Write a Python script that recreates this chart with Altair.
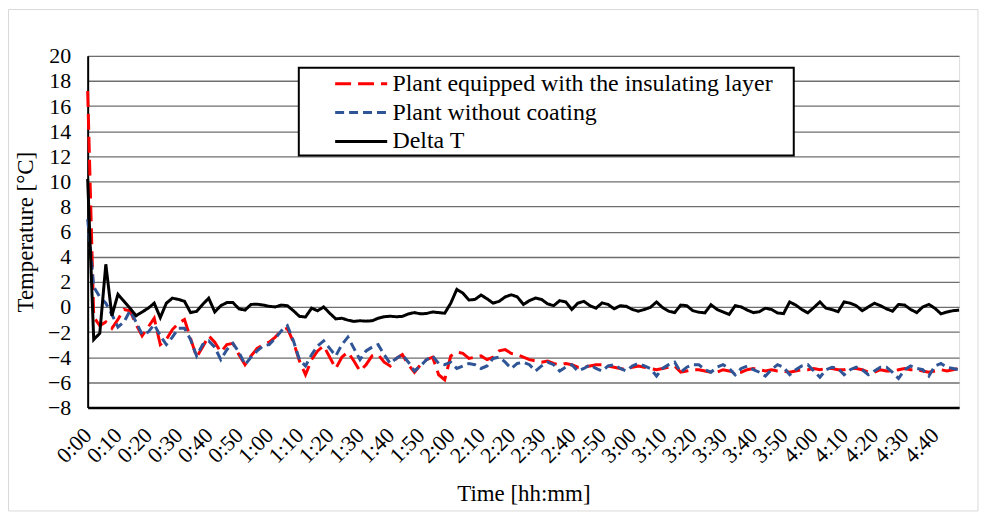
import altair as alt
import pandas as pd

minutes = list(range(0, 289, 2))

insulated = [
    17.2, -0.8, -1.5, -1.2, -1.7, -1.0, -0.2, -0.3, -1.4, -2.3,
    -1.6, -0.9, -3.0, -2.6, -1.8, -1.3, -1.0, -2.5, -4.0, -3.2,
    -2.3, -2.8, -3.6, -3.0, -2.9, -3.8, -4.6, -3.9, -3.3, -3.0,
    -2.8, -2.4, -1.9, -1.7, -2.8, -4.3, -5.4, -4.2, -3.5, -3.1,
    -4.0, -4.9, -4.0, -3.6, -4.3, -5.1, -4.6, -3.9, -3.8, -4.4,
    -4.7, -4.1, -3.8, -4.6, -5.2, -4.6, -4.2, -4.0, -5.4, -5.8,
    -3.9, -3.6, -3.7, -4.1, -4.0, -3.9, -4.2, -4.0, -3.5, -3.4,
    -3.7, -3.8, -4.0, -4.2, -4.3, -4.4, -4.3, -4.5, -4.6, -4.5,
    -4.6, -4.8, -4.8, -4.7, -4.6, -4.6, -4.7, -4.8, -4.9, -5.0,
    -4.8, -4.7, -4.8, -4.9, -5.0, -4.9, -4.8, -4.7, -5.2, -5.1,
    -5.0, -5.0, -5.1, -5.2, -5.2, -5.0, -5.1, -5.2, -5.2, -5.0,
    -4.9, -5.0, -5.1, -5.0, -5.1, -5.1, -5.2, -5.1, -5.0, -5.0,
    -4.9, -5.0, -4.9, -4.9, -5.0, -5.0, -4.9, -4.9, -5.0, -5.2,
    -5.2, -5.0, -5.1, -5.1, -5.0, -4.9, -5.0, -5.0, -5.1, -5.2,
    -5.1, -5.0, -5.1, -5.0, -4.9,
]

uncoated = [
    7.0, 1.6, 0.8, 0.3, -0.6, -1.6, -1.2, -0.3, -1.2, -2.2,
    -2.0, -1.4, -2.3, -3.0, -2.4, -1.7, -1.7, -2.6, -3.9, -3.0,
    -2.7, -3.2, -4.2, -3.4, -2.9, -3.6, -4.6, -4.0, -3.5, -3.1,
    -3.0, -2.5, -1.9, -1.5, -2.7, -4.2, -4.7, -3.8, -3.1, -2.7,
    -3.3, -3.9, -3.0, -2.4, -3.3, -4.2, -3.5, -3.2, -3.0, -3.8,
    -4.5, -4.1, -3.8, -4.4, -5.1, -4.7, -4.2, -3.9, -4.5, -4.6,
    -4.4, -4.9, -4.7, -4.5, -4.6, -4.9, -4.7, -4.1, -4.0, -4.4,
    -4.9, -4.5, -4.4, -4.6, -5.1, -4.7, -4.4, -4.6, -5.1, -4.8,
    -4.6, -5.1, -4.9, -4.6, -4.9, -5.1, -4.7, -4.6, -4.9, -5.1,
    -4.7, -4.5, -4.7, -4.9, -5.5, -4.9, -4.6, -4.4, -5.2, -4.8,
    -4.6, -4.6, -5.0, -5.2, -4.8, -4.6, -4.9, -5.4, -4.9, -4.7,
    -5.0, -5.2, -5.5, -5.0, -4.6, -4.8, -5.4, -5.0, -4.7, -4.6,
    -5.1, -5.6, -5.0, -4.8, -4.9, -5.4, -5.0, -4.8, -5.0, -5.4,
    -5.1, -4.8, -4.8, -5.2, -5.7, -5.0, -4.7, -4.9, -5.0, -5.5,
    -4.7, -4.5, -4.8, -4.9, -5.0,
]

delta_t = [
    10.2, -2.6, -2.1, 3.4, -0.7, 1.0, 0.45, -0.1, -0.7, -0.4,
    -0.1, 0.3, -0.85, 0.3, 0.7, 0.6, 0.45, -0.45, -0.35, 0.2,
    0.7, -0.4, 0.1, 0.35, 0.35, -0.15, -0.25, 0.2, 0.22, 0.15,
    0.05, 0.0, 0.15, 0.1, -0.3, -0.75, -0.8, -0.1, -0.3, 0.0,
    -0.5, -0.95, -0.9, -1.05, -1.15, -1.1, -1.13, -1.1, -0.9, -0.78,
    -0.74, -0.78, -0.75, -0.55, -0.45, -0.55, -0.52, -0.4, -0.45, -0.5,
    0.3, 1.4, 1.1, 0.55, 0.6, 0.95, 0.65, 0.3, 0.45, 0.8,
    0.97, 0.8, 0.2, 0.5, 0.71, 0.6, 0.25, 0.1, 0.5, 0.4,
    -0.2, 0.3, 0.45, 0.1, -0.1, 0.32, 0.2, -0.15, 0.1, 0.05,
    -0.2, -0.34, -0.2, -0.03, 0.4, -0.05, -0.34, -0.45, 0.15, 0.1,
    -0.3, -0.42, -0.47, 0.18, -0.2, -0.4, -0.6, 0.1, 0.0, -0.25,
    -0.45, -0.38, -0.1, -0.2, -0.48, -0.53, 0.4, 0.15, -0.2, -0.47,
    -0.05, 0.4, -0.1, -0.21, -0.38, 0.4, 0.3, 0.1, -0.3, 0.0,
    0.3, 0.1, -0.15, -0.34, 0.2, 0.15, -0.2, -0.45, 0.0, 0.2,
    -0.1, -0.55, -0.4, -0.3, -0.25,
]

S1 = "Plant equipped with the insulating layer"
S2 = "Plant without coating"
S3 = "Delta T"
series_names = [S1, S2, S3]
series_colors = ["#ff0000", "#2f5597", "#000000"]
series_dashes = [[16, 7], [9, 5], [1, 0]]

x_tick_values = list(range(0, 281, 10))
y_tick_values = list(range(-8, 21, 2))

rows = []
for name, vals in zip(series_names, [insulated, uncoated, delta_t]):
    for m, v in zip(minutes, vals):
        rows.append({"t": m, "v": v, "s": name})
df = pd.DataFrame(rows)

FONT = "Liberation Serif"

# custom horizontal stroke symbol: scaled by sqrt(size)/2 = 5.5
legend = alt.Legend(
    title=None, orient="none", legendX=242, legendY=16,
    symbolType="M-1,0H8.5", symbolSize=121, symbolStrokeWidth=3,
    symbolFillColor="transparent",
    labelFont=FONT, labelFontSize=24, labelColor="black",
    labelOffset=40, rowPadding=5, padding=0, labelLimit=700,
)

lines = alt.Chart(df).mark_line(strokeWidth=3).encode(
    x=alt.X(
        "t:Q",
        scale=alt.Scale(domain=[0, 288], nice=False, zero=False),
        axis=alt.Axis(
            values=x_tick_values,
            labelExpr="floor(datum.value/60) + ':' + (datum.value % 60 < 10 ? '0' : '') + (datum.value % 60)",
            labelAngle=-45, labelAlign="right", labelBaseline="middle",
            labelPadding=24, ticks=False, grid=False,
            domainColor="black", domainWidth=2.5,
            labelFont=FONT, labelFontSize=22, labelColor="black",
            title="Time [hh:mm]", titleFont=FONT, titleFontSize=23,
            titleFontWeight="normal", titleColor="black", titlePadding=16,
            labelOverlap=False,
        ),
    ),
    y=alt.Y(
        "v:Q",
        scale=alt.Scale(domain=[-8, 20], nice=False),
        axis=alt.Axis(
            values=y_tick_values, ticks=False, labelPadding=17,
            grid=True, gridColor="#6e6e6e", gridWidth=1.3,
            domainColor="black", domainWidth=2,
            labelFont=FONT, labelFontSize=22, labelColor="black",
            title="Temperature [°C]", titleFont=FONT, titleFontSize=23,
            titleFontWeight="normal", titleColor="black", titlePadding=10,
            labelOverlap=False,
        ),
    ),
    color=alt.Color("s:N", scale=alt.Scale(domain=series_names, range=series_colors), legend=legend),
    strokeDash=alt.StrokeDash("s:N", scale=alt.Scale(domain=series_names, range=series_dashes), legend=legend),
)

one = pd.DataFrame({"k": [0]})
legend_box = alt.Chart(one).mark_rect(fill="white", stroke="black", strokeWidth=2).encode(
    x=alt.value(212), x2=alt.value(709), y=alt.value(12), y2=alt.value(100)
)
frame = alt.Chart(one).mark_rect(fillOpacity=0, stroke="#d9d9d9", strokeWidth=1).encode(
    x=alt.value(-79.5), x2=alt.value(894), y=alt.value(-46.5), y2=alt.value(457)
)

chart = alt.layer(frame, legend_box, lines).properties(
    width=875, height=353,
    padding={"left": 80, "top": 47, "right": 20, "bottom": 105},
    autosize="none",
).configure_view(stroke=None).configure(background="white")

chart.save("out.html", embed_options={"renderer": "svg", "actions": False})
